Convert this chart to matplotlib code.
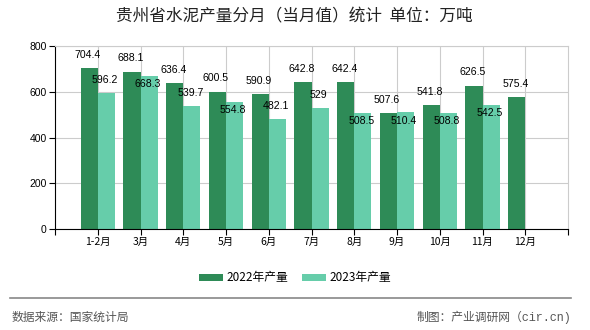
import matplotlib
matplotlib.use("Agg")
import matplotlib.pyplot as plt
import numpy as np

months = ["1-2月", "3月", "4月", "5月", "6月", "7月", "8月", "9月", "10月", "11月", "12月"]
output_2022 = [704.4, 688.1, 636.4, 600.5, 590.9, 642.8, 642.4, 507.6, 541.8, 626.5, 575.4]
output_2023 = [596.2, 668.3, 539.7, 554.8, 482.1, 529, 508.5, 510.4, 508.8, 542.5]
# label placement for the 2023 bars: True = above bar top, False = just below
label_above_2023 = [True, False, True, False, True, True, False, False, False, False]

CJK = ["Noto Sans CJK SC", "DejaVu Sans"]
NUM = ["Liberation Sans Narrow", "Liberation Sans", "DejaVu Sans"]
MIX = ["Liberation Sans Narrow", "Noto Sans CJK SC", "DejaVu Sans"]
MONO = ["Liberation Mono", "Noto Sans CJK SC", "DejaVu Sans"]
DARK = "#2e8b57"
LIGHT = "#66cdaa"

fig = plt.figure(figsize=(5.9, 3.3), dpi=100)
ax = fig.add_axes([55 / 590, 1 - 229 / 330, 513 / 590, 183 / 330])

x = np.arange(len(months))
w = 0.4
ax.bar(x - w / 2, output_2022, width=w, color=DARK, label="2022年产量", zorder=2)
ax.bar(x[:len(output_2023)] + w / 2, output_2023, width=w, color=LIGHT,
       label="2023年产量", zorder=2)

for xi, v in zip(x, output_2022):
    ax.annotate(f"{v:g}", (xi - w / 2, v), xytext=(-1, 9.5), textcoords="offset points",
                ha="center", va="center", fontsize=7.6, family=NUM, zorder=3)
for xi, v, up in zip(x, output_2023, label_above_2023):
    dy = 9 if up else -6
    ax.annotate(f"{v:g}", (xi + w / 2, v), xytext=(-1, dy), textcoords="offset points",
                ha="center", va="center", fontsize=7.6, family=NUM, zorder=3)

ax.set_xlim(-1, 11)
ax.set_ylim(0, 800)
ax.set_yticks(range(0, 801, 200))
ax.set_xticks(x)
ax.set_xticklabels(months, family=MIX, fontsize=7.5)
for lab in ax.get_yticklabels():
    lab.set_family(NUM)
    lab.set_fontsize(7.5)
ax.set_xticks([-1, 11], minor=True)
ax.tick_params(axis="both", which="both", length=4, width=0.8, color="black", pad=2)

ax.grid(True, color="#cccccc", linewidth=0.8, zorder=0)
ax.set_axisbelow(True)
for side in ["top", "right"]:
    ax.spines[side].set_color("#cccccc")
for side in ["left", "bottom"]:
    ax.spines[side].set_color("black")

fig.text(0.498, 1 - 17 / 330, "贵州省水泥产量分月（当月值）统计  单位：万吨",
         ha="center", va="center", fontsize=12, family=CJK, color="#222222")

fig.legend(loc="center", bbox_to_anchor=(0.5, 1 - 278 / 330), ncol=2, frameon=False,
           prop={"family": MIX, "size": 8.5}, handlelength=2.0, handleheight=0.6,
           columnspacing=1.2, handletextpad=0.3)

fig.add_artist(plt.Line2D([10 / 590, 571 / 590], [1 - 298 / 330] * 2, color="#888888",
                          linewidth=1.2, transform=fig.transFigure))
fig.text(12 / 590, 1 - 317 / 330, "数据来源：国家统计局", ha="left", va="center",
         fontsize=8.5, family=CJK, color="#555555")
fig.text(571 / 590, 1 - 317 / 330, "制图：产业调研网（cir.cn)", ha="right", va="center",
         fontsize=8.5, family=MONO, color="#555555")

fig.savefig("out.png", dpi=100)
